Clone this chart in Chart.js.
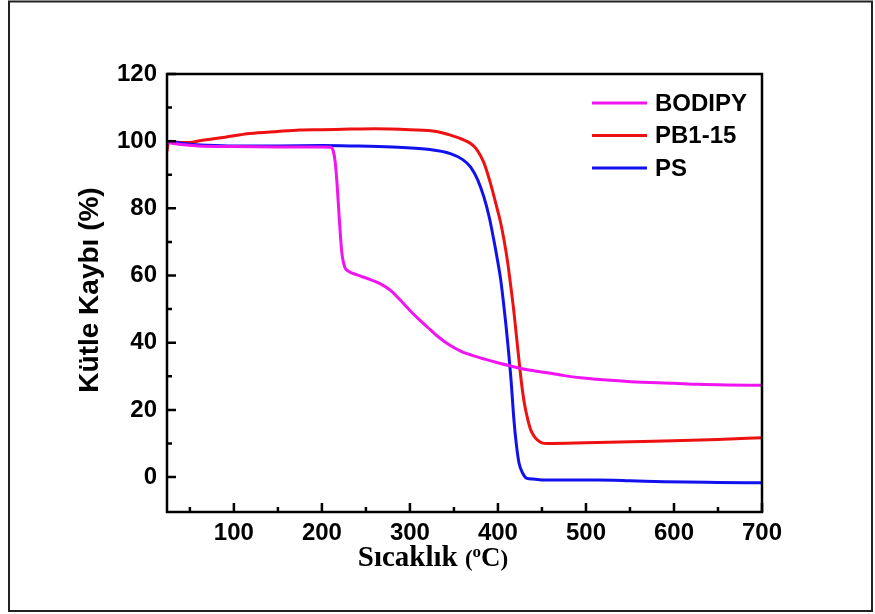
<!DOCTYPE html>
<html>
<head>
<meta charset="utf-8">
<script src="https://cdn.jsdelivr.net/npm/chart.js"></script>
<style>
body { margin: 0; background: #fff; }
</style>
</head>
<body>
<canvas id="myChart" width="875" height="614"></canvas>
<script>
const ctx = document.getElementById('myChart');

// sicaklik (C) / kutle (%) okunan degerler
const bodipyT = [24, 30, 40, 60, 100, 150, 200, 210, 213, 215, 217, 219, 221, 223, 226, 230, 240, 255, 266, 278, 289, 300, 310, 320, 331, 345, 357, 370, 385, 403, 420, 437, 460, 475, 500, 551, 600, 627, 660, 700]
const bodipyM = [99.6, 99.4, 99.0, 98.6, 98.4, 98.3, 98.3, 98.2, 97.0, 94.0, 88.0, 80.0, 72.0, 66.0, 62.5, 61.3, 60.2, 58.8, 57.6, 55.6, 52.7, 49.6, 47.0, 44.6, 42.0, 39.3, 37.6, 36.3, 35.1, 33.8, 32.7, 31.8, 30.9, 30.2, 29.4, 28.4, 27.9, 27.6, 27.4, 27.3]

const pbT = [24, 25, 27, 35, 50, 61, 90, 118, 150, 175, 200, 232, 260, 300, 330, 346, 360, 369, 376, 384, 392, 398, 403, 407, 411, 414, 418, 421, 424, 427, 430, 434, 437, 441, 445, 450, 456, 500, 551, 600, 650, 700]
const pbM = [97.0, 99.0, 99.8, 99.7, 99.6, 100.1, 101.2, 102.3, 102.9, 103.3, 103.4, 103.6, 103.7, 103.4, 102.9, 101.8, 100.5, 99.3, 97.5, 93.6, 87.0, 81.0, 75.8, 70.4, 64.0, 58.0, 49.5, 42.0, 34.5, 27.5, 22.0, 17.0, 14.2, 12.2, 11.0, 10.2, 10.0, 10.2, 10.5, 10.8, 11.2, 11.7]

const psT = [24, 28, 35, 50, 70, 100, 150, 200, 232, 280, 320, 346, 360, 369, 377, 384, 390, 395, 399, 403, 406, 409, 412, 415, 418, 421, 424, 428, 433, 440, 452, 475, 513, 550, 589, 650, 700]
const psM = [99.2, 100.0, 99.6, 99.1, 98.8, 98.6, 98.6, 98.7, 98.6, 98.3, 97.6, 96.3, 94.5, 92.3, 88.5, 83.4, 77.5, 71.0, 65.3, 59.0, 52.6, 45.5, 37.5, 28.5, 17.5, 9.5, 4.1, 1.2, -0.4, -0.6, -0.9, -0.9, -0.9, -1.1, -1.4, -1.6, -1.7]

const seriesNames = ['BODIPY', 'PB1-15', 'PS']
const seriesColors = ['#f014f0', '#ee1111', '#1111ee']

const xTicks = [100, 200, 300, 400, 500, 600, 700]
const xMinor = [50, 150, 250, 350, 450, 550, 650]
const yTicks = [0, 20, 40, 60, 80, 100, 120]
const yMinor = [10, 30, 50, 70, 90, 110]

function pairs(t, m) {
    return t.map((v, i) => ({ x: v, y: m[i] }))
}

const tickFont = { family: 'Liberation Sans, Arial', size: 24, weight: 'bold' }

const extras = {
    id: 'extras',
    afterDraw(chart) {
        const c = chart.ctx
        const a = chart.chartArea
        const xs = chart.scales.x
        const ys = chart.scales.y
        c.save()

        // cerceve
        c.strokeStyle = '#000'
        c.lineWidth = 2.5
        c.strokeRect(a.left, a.top, a.right - a.left, a.bottom - a.top)

        // tikler (iceri)
        c.beginPath()
        xTicks.forEach(v => { const p = xs.getPixelForValue(v); c.moveTo(p, a.bottom); c.lineTo(p, a.bottom - 9) })
        xMinor.forEach(v => { const p = xs.getPixelForValue(v); c.moveTo(p, a.bottom); c.lineTo(p, a.bottom - 5) })
        yTicks.forEach(v => { const p = ys.getPixelForValue(v); c.moveTo(a.left, p); c.lineTo(a.left + 9, p) })
        yMinor.forEach(v => { const p = ys.getPixelForValue(v); c.moveTo(a.left, p); c.lineTo(a.left + 5, p) })
        c.stroke()

        // lejant
        c.font = 'bold 24px "Liberation Sans", Arial'
        c.textBaseline = 'middle'
        c.textAlign = 'left'
        seriesNames.forEach((n, i) => {
            const y = 103 + i * 32.5
            c.strokeStyle = seriesColors[i]
            c.lineWidth = 3
            c.beginPath()
            c.moveTo(592, y)
            c.lineTo(647, y)
            c.stroke()
            c.fillStyle = '#000'
            c.fillText(n, 655, y + 1)
        })

        // eksen basliklari
        c.save()
        c.translate(90, 290)
        c.rotate(-Math.PI / 2)
        c.textAlign = 'center'
        c.font = 'bold 28px "Liberation Sans", Arial'
        c.fillText('Kütle Kaybı (%)', 0, 0)
        c.restore()

        const parts = [
            ['Sıcaklık ', 29, 0],
            ['(', 23, 0],
            ['o', 17, -9],
            ['C', 27, 0],
            [')', 23, 0]
        ]
        c.textBaseline = 'alphabetic'
        let w = 0
        parts.forEach(p => { c.font = 'bold ' + p[1] + 'px "Liberation Serif", "Times New Roman"'; w += c.measureText(p[0]).width })
        let x = 433 - w / 2
        parts.forEach(p => {
            c.font = 'bold ' + p[1] + 'px "Liberation Serif", "Times New Roman"'
            c.fillText(p[0], x, 566 + p[2])
            x += c.measureText(p[0]).width
        })

        // dis cerceve
        c.strokeStyle = '#222'
        c.lineWidth = 2
        c.strokeRect(9, 1.5, 863, 609.5)
        c.restore()
    }
}

const grafik = new Chart(ctx, {
    type: 'line',
    data: {
        datasets: [
            { label: seriesNames[0], data: pairs(bodipyT, bodipyM), borderColor: seriesColors[0], order: 0 },
            { label: seriesNames[1], data: pairs(pbT, pbM), borderColor: seriesColors[1], order: 2 },
            { label: seriesNames[2], data: pairs(psT, psM), borderColor: seriesColors[2], order: 1 }
        ]
    },
    options: {
        responsive: false,
        animation: false,
        devicePixelRatio: 1,
        layout: { padding: { top: 74, right: 113, left: 0, bottom: 0 } },
        elements: {
            point: { radius: 0 },
            line: { borderWidth: 3, cubicInterpolationMode: 'monotone', fill: false }
        },
        plugins: {
            legend: { display: false },
            tooltip: { enabled: false }
        },
        scales: {
            x: {
                type: 'linear',
                min: 24,
                max: 700,
                grid: { display: false, drawTicks: false },
                border: { display: false },
                ticks: { color: '#000', font: tickFont, padding: 7, maxRotation: 0 },
                afterBuildTicks: s => { s.ticks = xTicks.map(v => ({ value: v })) },
                afterFit: s => { s.height = 102 }
            },
            y: {
                min: -10.4,
                max: 120,
                grid: { display: false, drawTicks: false },
                border: { display: false },
                ticks: { color: '#000', font: tickFont, padding: 10 },
                afterBuildTicks: s => { s.ticks = yTicks.map(v => ({ value: v })) },
                afterFit: s => { s.width = 167 }
            }
        }
    },
    plugins: [extras]
});
</script>
</body>
</html>
